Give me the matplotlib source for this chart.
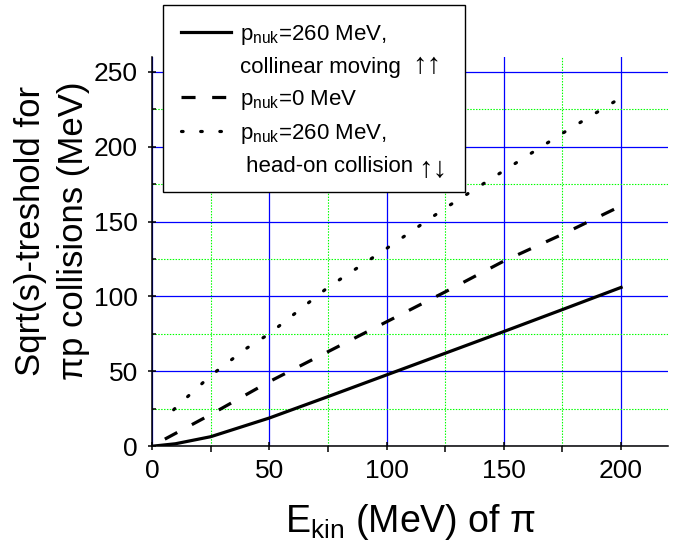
import matplotlib
matplotlib.use('Agg')
import matplotlib.pyplot as plt
from matplotlib.lines import Line2D
from matplotlib.patches import Rectangle
from matplotlib.ticker import MultipleLocator

plt.rcParams['font.family'] = ['Liberation Sans', 'DejaVu Sans']
plt.rcParams['mathtext.default'] = 'regular'

# p_nuk = 260 MeV, collinear moving
ekin_coll = [1, 10, 25, 50, 75, 100, 125, 150, 175, 200]
thr_coll = [0, 1.5, 6.2, 18.7, 33, 47.5, 62, 76.5, 91.2, 106]

# p_nuk = 0 MeV
ekin_rest = [0, 25, 50, 75, 100, 125, 150, 175, 197]
thr_rest = [0, 21, 43, 63, 83, 103, 123.6, 141.5, 158.2]

# p_nuk = 260 MeV, head-on collision
ekin_head = [4, 11, 18, 25, 40, 50, 75, 100, 125, 150, 175, 197]
thr_head = [16, 27, 37, 47, 65, 75, 106, 132, 159, 184, 209, 230]

# legend lines; the arrows are drawn on top afterwards (bigger glyphs)
legend_labels = [r'p$_{nuk}$=260 MeV,', 'collinear moving',
                 r'p$_{nuk}$=0 MeV', r'p$_{nuk}$=260 MeV,',
                 ' head-on collision']
arrow_marks = ['\u2191\u2191', '\u2191\u2193']

fig = plt.figure(figsize=(6.78, 5.48), dpi=100)
ax = fig.add_axes([152/678, 102/548, 516/678, 389/548])

lw = 2.3
dash = (0, (4.4, 5.2))
dots = (0, (0.5, 5.5))
ax.plot(ekin_coll, thr_coll, color='black', lw=lw)
# drawn from the right end so the pattern ends on a mark there
ax.plot(ekin_rest[::-1], thr_rest[::-1], color='black', lw=lw, linestyle=dash)
ax.plot(ekin_head[::-1], thr_head[::-1], color='black', lw=lw,
        linestyle=dots, dash_capstyle='round')

ax.set_xlim(0, 220)
ax.set_ylim(0, 260)
ax.xaxis.set_major_locator(MultipleLocator(50))
ax.xaxis.set_minor_locator(MultipleLocator(25))
ax.yaxis.set_major_locator(MultipleLocator(50))
ax.yaxis.set_minor_locator(MultipleLocator(25))

ax.set_axisbelow(True)
ax.grid(which='major', color='#0000ff', lw=0.9, linestyle='-')
ax.grid(which='minor', color='#00ff00', lw=0.8, linestyle=(0, (1.3, 1.3)),
        snap=True)

for s in ['top', 'right']:
    ax.spines[s].set_visible(False)
for s in ['left', 'bottom']:
    ax.spines[s].set_linewidth(1.1)

ax.tick_params(which='major', direction='inout', length=6, width=1.1,
               labelsize=19)
ax.tick_params(axis='y', which='major', pad=7)
ax.tick_params(axis='x', which='major', pad=6)
ax.tick_params(axis='x', which='minor', direction='out', length=4, width=1.1)
ax.tick_params(axis='y', which='minor', direction='in', length=3, width=1.1)

ax.set_xlabel('E$_{kin}$ (MeV) of \u03c0', fontsize=27, labelpad=14)
ax.set_ylabel('Sqrt(s)-treshold for\n\u03c0p collisions (MeV)',
              fontsize=25, linespacing=1.38)
ax.yaxis.set_label_coords(-0.121, 0.553)

# legend frame drawn by hand (fixed size, above the axes)
fig.patches.append(Rectangle((163/678, 1 - 192/548), 302/678, 187/548,
                             transform=fig.transFigure, facecolor='white',
                             edgecolor='black', lw=1.0, zorder=4))

blank = Line2D([], [], color='none')
handles = [Line2D([], [], color='black', lw=lw), blank,
           Line2D([], [], color='black', lw=lw, linestyle=dash),
           Line2D([], [], color='black', lw=lw, linestyle=dots,
                  dash_capstyle='round'),
           blank]
leg = fig.legend(handles, legend_labels, loc='upper left',
                 bbox_to_anchor=(163/678, 1 - 5/548), borderaxespad=0,
                 fontsize=16, frameon=False, handlelength=2.25,
                 handletextpad=0.4, borderpad=0.8, labelspacing=0.45)

# put the arrows after the words of lines 2 and 5
fig.canvas.draw()
r = fig.canvas.get_renderer()
W, H = fig.bbox.width, fig.bbox.height
for i, marks, gap in [(1, arrow_marks[0], 12), (4, arrow_marks[1], 5)]:
    txt = leg.get_texts()[i]
    bb = txt.get_window_extent(r)
    w, h, d = r.get_text_width_height_descent(txt.get_text(),
                                              txt.get_fontproperties(),
                                              ismath=False)
    fig.text((bb.x1 + gap) / W, (bb.y0 + d) / H, marks, fontsize=21,
             va='baseline', ha='left', zorder=10)

fig.savefig('out.png', dpi=100)
